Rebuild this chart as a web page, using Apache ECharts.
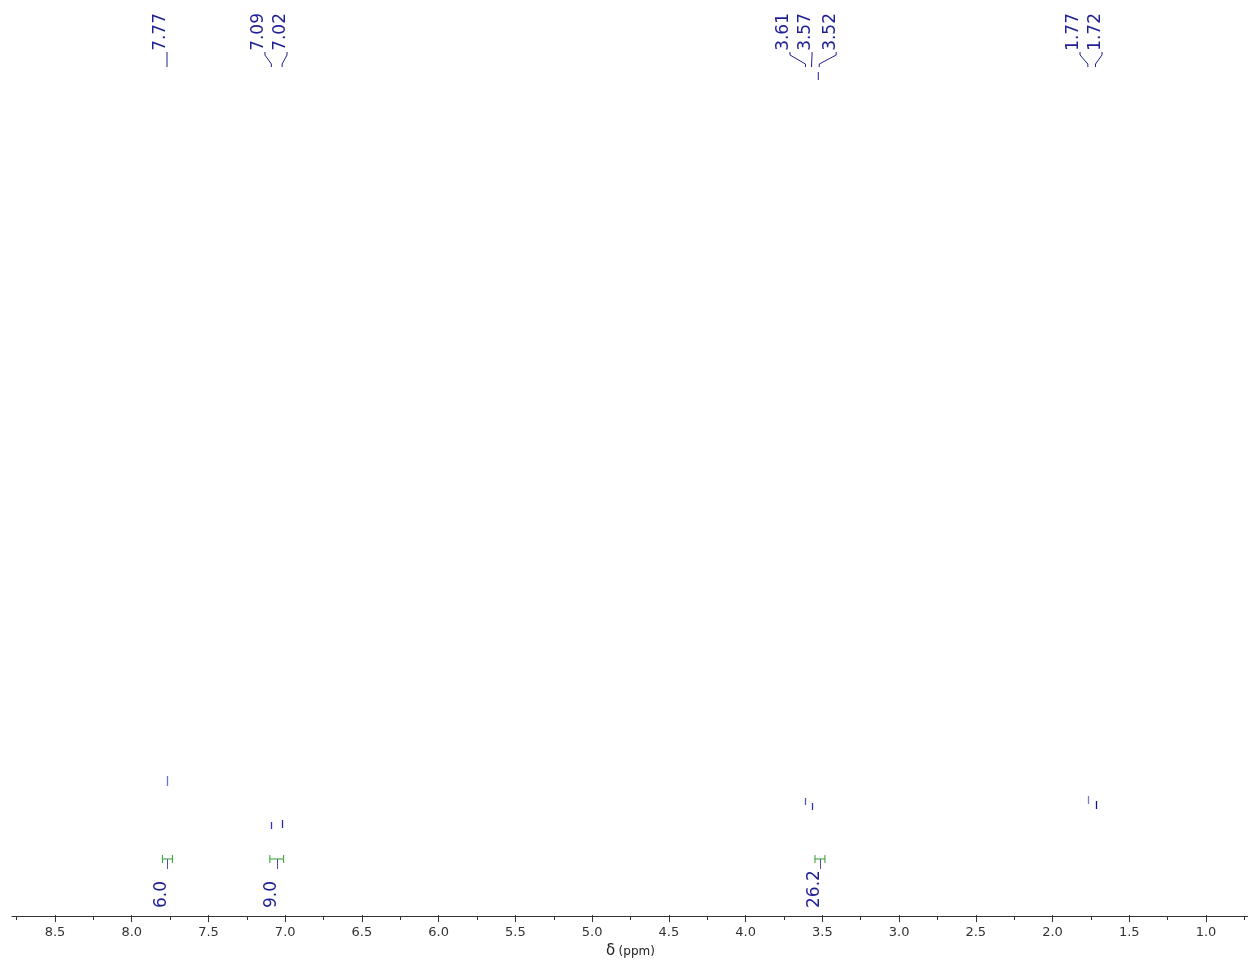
<!DOCTYPE html>
<html>
<head>
<meta charset="utf-8">
<script src="https://cdn.jsdelivr.net/npm/echarts@6/dist/echarts.min.js"></script>
<style>
  html, body { margin: 0; background: #fff; }
  #chart { width: 1248px; height: 964px; }
</style>
</head>
<body>
<div id="chart"></div>
<script>
// peak picking: shift and where its label sits on the axis
var shifts = [7.77, 7.09, 7.02, 3.61, 3.57, 3.52, 1.77, 1.72];
var labelAt = [7.77, 7.132, 6.988, 3.711, 3.567, 3.41, 1.821, 1.678];

// visible tops of the spectrum lines (intensity units, 0 = baseline axis)
var peakX = [7.77, 7.09, 7.02, 3.61, 3.57, 1.77, 1.72];
var peakTop = [140, 94, 96, 118, 113, 120, 115];
var peakBase = [130, 87, 88, 111, 106, 112, 107];
var peakColor = ['#7070c4', '#3434c0', '#2626b4', '#5a5ab8', '#3030b4', '#7878cc', '#10108c'];

// integrals
var intFrom = [7.80, 7.10, 3.548];
var intTo = [7.735, 7.01, 3.483];
var intValue = [6.0, 9.0, 26.2];

var FONT = 'DejaVu Sans';
var BLUE = '#1e1e96';
var GREEN = '#2e9e2e';

// annotation rows, in the same units as the hidden y axis
var LABEL_TOP = 903, CONN_TOP = 864, CONN_BEND1 = 861, CONN_BEND2 = 852, CONN_END = 849;
var INT_BAR = 57, INT_TICK = 4, INT_STEM = 47, INT_LABEL = 8;

var chart = echarts.init(document.getElementById('chart'));

chart.setOption({
  animation: false,
  grid: [
    {left: 16.6, right: 3.6, top: 0, bottom: 48},
    {left: 55, right: 42, top: 0, bottom: 48},
    {left: 12, right: 0, top: 0, bottom: 48}
  ],
  xAxis: [
    {
      gridIndex: 0, type: 'value', inverse: true, min: 0.75, max: 8.75, interval: 0.25,
      axisLine: {show: false},
      axisTick: {length: 4, lineStyle: {color: '#333'}},
      axisLabel: {show: false},
      splitLine: {show: false}
    },
    {
      gridIndex: 1, type: 'value', inverse: true, min: 1, max: 8.5, interval: 0.5,
      axisLine: {show: false},
      axisTick: {length: 7, lineStyle: {color: '#333'}},
      axisLabel: {
        margin: 11, color: '#333', fontFamily: FONT, fontSize: 13,
        formatter: function (v) { return v.toFixed(1); }
      },
      splitLine: {show: false},
      name: '{a|δ} {b|(ppm)}',
      nameLocation: 'middle',
      nameGap: 28,
      nameTextStyle: {
        rich: {
          a: {fontFamily: FONT, fontSize: 15, color: '#222'},
          b: {fontFamily: FONT, fontSize: 12, color: '#222'}
        }
      }
    },
    {
      gridIndex: 2, type: 'value', min: 0, max: 1,
      axisLine: {lineStyle: {color: '#333', width: 1}},
      axisTick: {show: false},
      axisLabel: {show: false},
      splitLine: {show: false}
    }
  ],
  yAxis: [0, 1, 2].map(function (i) {
    return {gridIndex: i, type: 'value', min: 0, max: 916, show: false};
  }),
  series: [
    {
      type: 'custom',
      xAxisIndex: 0, yAxisIndex: 0,
      data: peakX.map(function (x, i) { return [x, peakBase[i], peakTop[i]]; }),
      encode: {x: 0, y: [1, 2]},
      renderItem: function (params, api) {
        var a = api.coord([api.value(0), api.value(1)]);
        var b = api.coord([api.value(0), api.value(2)]);
        var x = Math.round(a[0]) + 0.5;
        return {
          type: 'line',
          shape: {x1: x, y1: a[1], x2: x, y2: b[1]},
          style: {stroke: peakColor[params.dataIndex], lineWidth: 1.3}
        };
      }
    },
    {
      type: 'custom',
      xAxisIndex: 0, yAxisIndex: 0,
      data: shifts.map(function (s, i) { return [labelAt[i], s]; }),
      encode: {x: [0, 1]},
      renderItem: function (params, api) {
        var lx = api.coord([api.value(0), 0])[0];
        var px = api.coord([api.value(1), 0])[0];
        var y = function (v) { return api.coord([0.75, v])[1]; };
        var pts = [[lx, y(CONN_TOP)], [lx, y(CONN_BEND1)], [px, y(CONN_BEND2)], [px, y(CONN_END)]];
        var children = [
          {type: 'polyline', shape: {points: pts}, style: {stroke: BLUE, lineWidth: 1, fill: 'none'}},
          {
            type: 'text', x: lx - 6, y: y(LABEL_TOP), rotation: Math.PI / 2,
            style: {
              text: api.value(1).toFixed(2), fill: BLUE, fontFamily: FONT, fontSize: 17,
              align: 'right', verticalAlign: 'middle'
            }
          }
        ];
        if (api.value(1) === 3.52) {
          children.push({
            type: 'line',
            shape: {x1: px - 1, y1: y(CONN_END - 5), x2: px - 1, y2: y(CONN_END - 13)},
            style: {stroke: BLUE, lineWidth: 1}
          });
        }
        return {type: 'group', children: children};
      }
    },
    {
      type: 'custom',
      xAxisIndex: 0, yAxisIndex: 0,
      data: intFrom.map(function (f, i) { return [f, intTo[i], intValue[i]]; }),
      encode: {x: [0, 1]},
      renderItem: function (params, api) {
        var x1 = api.coord([api.value(0), 0])[0];
        var x2 = api.coord([api.value(1), 0])[0];
        var xm = Math.round((x1 + x2) / 2) + 0.5;
        var y = function (v) { return api.coord([0.75, v])[1]; };
        var yb = y(INT_BAR);
        return {
          type: 'group',
          children: [
            {type: 'line', shape: {x1: x1, y1: yb, x2: x2, y2: yb}, style: {stroke: GREEN, lineWidth: 1}},
            {type: 'line', shape: {x1: x1, y1: yb - INT_TICK, x2: x1, y2: yb + INT_TICK}, style: {stroke: GREEN, lineWidth: 1}},
            {type: 'line', shape: {x1: x2, y1: yb - INT_TICK, x2: x2, y2: yb + INT_TICK}, style: {stroke: GREEN, lineWidth: 1}},
            {type: 'line', shape: {x1: xm, y1: yb, x2: xm, y2: y(INT_STEM)}, style: {stroke: '#5050b0', lineWidth: 1}},
            {
              type: 'text', x: xm - 6, y: y(INT_LABEL), rotation: Math.PI / 2,
              style: {
                text: api.value(2).toFixed(1), fill: BLUE, fontFamily: FONT, fontSize: 17,
                align: 'left', verticalAlign: 'middle'
              }
            }
          ]
        };
      }
    }
  ]
});
</script>
</body>
</html>
